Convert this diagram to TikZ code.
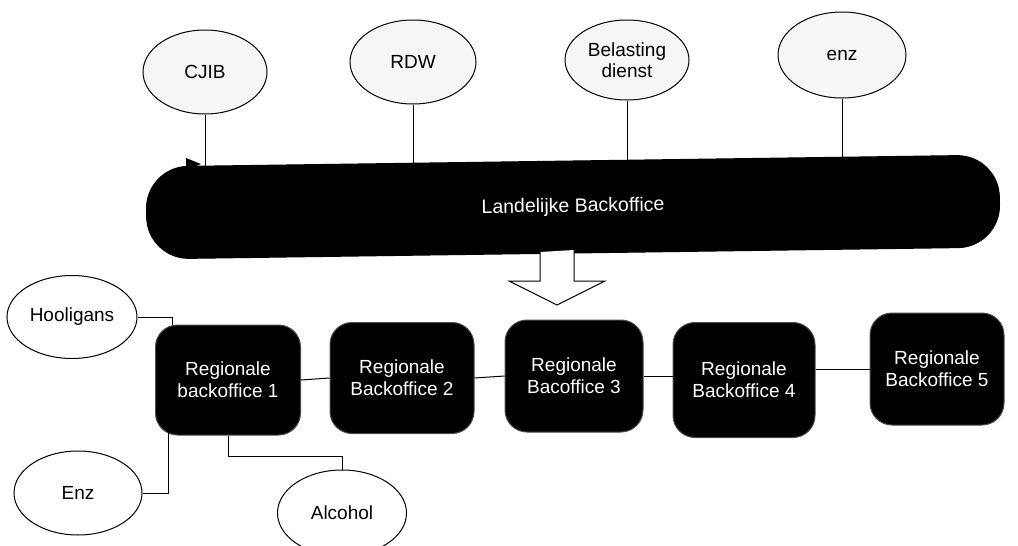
\documentclass[tikz,border=0pt]{standalone}
\usepackage{fontspec}
\setmainfont{Liberation Sans}
\usetikzlibrary{shapes.geometric,backgrounds}
\begin{document}
\begin{tikzpicture}[x=1pt,y=-1pt,
  topell/.style={ellipse,draw=black,line width=1pt,fill=gray!7,inner sep=0pt,font=\fontsize{19}{21}\selectfont,align=center},
  lowell/.style={ellipse,draw=black,line width=1pt,fill=white,inner sep=0pt,font=\fontsize{19}{21}\selectfont,align=center},
  rbox/.style={draw=black!70,line width=1pt,fill=black,rounded corners=22pt,text=white,inner sep=0pt,font=\fontsize{19}{22}\selectfont,align=center},
  conn/.style={draw=black,line width=1pt}]
\useasboundingbox (0,0) rectangle (1018,546);
\clip (0,0) rectangle (1018,546);
% top ellipses
\node[topell,minimum width=124pt,minimum height=84pt] (cjib) at (205,72) {CJIB};
\node[topell,minimum width=126pt,minimum height=84pt] (rdw) at (413,62) {RDW};
\node[topell,minimum width=124pt,minimum height=80pt] (bel) at (627,60) {Belasting\\dienst};
\node[topell,minimum width=128pt,minimum height=86pt] (enz) at (842,55) {enz};
% national bar
\node[draw=black,line width=1pt,fill=black,rounded corners=42pt,minimum width=853pt,minimum height=92pt,rotate=0.8,text=white,font=\fontsize{19.5}{22}\selectfont] (land) at (573,207) {Landelijke Backoffice};
\begin{scope}[on background layer]
\draw[conn] (cjib.south) -- (cjib.south |- land.center);
\draw[conn] (rdw.south) -- (rdw.south |- land.center);
\draw[conn] (bel.south) -- (bel.south |- land.center);
\draw[conn] (enz.south) -- (enz.south |- land.center);
\end{scope}
\fill[black] (186,158) -- (201,164) -- (186,170) -- cycle;
% block arrow
\coordinate (arL) at (540,252);
\draw[line width=1pt,fill=white] (arL) -- (540,281) -- (509,281) -- (557,305) -- (605,281) -- (574,281) -- (574,250);
% regional boxes
\node[rbox,minimum width=145pt,minimum height=110pt] (r1) at (228,380) {Regionale\\backoffice 1};
\node[rbox,minimum width=144pt,minimum height=111pt] (r2) at (402,378) {Regionale\\Backoffice 2};
\node[rbox,minimum width=138pt,minimum height=112pt] (r3) at (574,376) {Regionale\\Bacoffice 3};
\node[rbox,minimum width=142pt,minimum height=115pt] (r4) at (744,380) {Regionale\\Backoffice 4};
\node[rbox,minimum width=134pt,minimum height=112pt] (r5) at (937,369) {Regionale\\Backoffice 5};
\draw[conn] (r1.east) -- (r2.west);
\draw[conn] (r2.east) -- (r3.west);
\draw[conn] (r3.east) -- (r3.east -| r4.west);
\draw[conn] (r4.east |- r5.west) -- (r5.west);
% lower ellipses
\node[lowell,minimum width=130pt,minimum height=83pt] (hool) at (72,317) {Hooligans};
\node[lowell,minimum width=128pt,minimum height=84pt] (enz2) at (78,493) {Enz};
\node[lowell,minimum width=129pt,minimum height=86pt] (alc) at (342,513) {Alcohol};
\coordinate (rEnz) at (168,416);
\draw[conn] (hool.east) -| (r1.north -| 172,0);
\draw[conn] (enz2.east) -| (rEnz);
\draw[conn] (r1.south) -- ++(0,21) -| (alc.north);
\end{tikzpicture}
\end{document}
